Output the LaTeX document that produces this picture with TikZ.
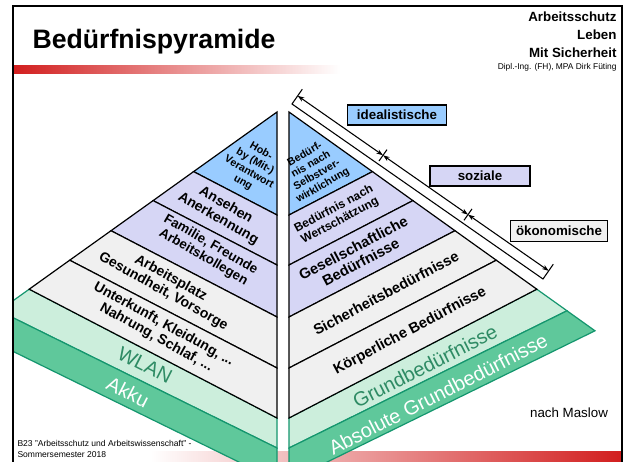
\documentclass[tikz,border=0pt]{standalone}
\usepackage{fontspec}
\setmainfont{Liberation Sans}
\usetikzlibrary{arrows.meta}

\definecolor{pyrblue}{RGB}{153,204,255}
\definecolor{pyrlila}{RGB}{214,214,245}
\definecolor{pyrgray}{RGB}{240,240,240}
\definecolor{grnlight}{RGB}{204,238,220}
\definecolor{grndark}{RGB}{95,200,155}
\definecolor{grnline}{RGB}{20,150,110}
\definecolor{grntext}{RGB}{46,139,100}
\definecolor{barred}{RGB}{210,30,30}

\tikzset{every picture/.style={line width=0.75pt}}
\tikzset{
  band/.style={draw=black, line width=0.9pt},
  grnband/.style={draw=grnline, line width=0.9pt},
  pyrtext/.style={font=\bfseries\fontsize{10}{11}\selectfont, align=center, inner sep=0pt},
  grntxt/.style={font=\fontsize{15}{16}\selectfont, inner sep=0pt},
  lvlbox/.style={draw=black, line width=1.2pt, font=\bfseries\fontsize{10}{12}\selectfont, minimum height=15pt, inner sep=2pt},
  dimarrow/.style={{Stealth[length=5pt,width=3.5pt]}-{Stealth[length=5pt,width=3.5pt]}, line width=0.8pt},
}

\begin{document}
\begin{tikzpicture}[x=0.75pt,y=0.75pt,yscale=-1,xscale=1]
\useasboundingbox (0,0) rectangle (625,461);
\fill[white] (0,0) rectangle (625,461);

%Shape: red bars
\shade[left color=barred, right color=white] (13,65) rectangle (340,73);
\shade[left color=white, right color=barred] (150,451) rectangle (622,461);

% Text Node
\node[anchor=west, font=\fontsize{6.4}{7}\selectfont, inner sep=0pt] (foot1) at (17,443) {B23 "Arbeitsschutz und Arbeitswissenschaft" -};
% Text Node
\node[anchor=west, font=\fontsize{6.4}{7}\selectfont, inner sep=0pt] (foot2) at (17,455) {Sommersemester 2018};

\begin{scope}
\clip (13,6) rectangle (622,461);
%Shape: green bands left
\draw[grnband, fill=grnlight] (29.2,289.2) -- (277,418) -- (277,448) -- (-1,310.8) -- cycle;
\draw[grnband, fill=grndark] (-1,310.8) -- (277,448) -- (277,480.7) -- (-29,330.8) -- cycle;
%Shape: green bands right
\draw[grnband, fill=grnlight] (536.8,289.2) -- (289,418) -- (289,448) -- (567,310.8) -- cycle;
\draw[grnband, fill=grndark] (567,310.8) -- (289,448) -- (289,480.7) -- (595,330.8) -- cycle;
\end{scope}

%Shape: left pyramid
\draw[band, fill=pyrblue] (277,112) -- (277,215) -- (193.6,171.6) -- cycle;
\draw[band, fill=pyrlila] (193.6,171.6) -- (277,215) -- (277,265) -- (153.1,200.6) -- cycle;
\draw[band, fill=pyrlila] (153.1,200.6) -- (277,265) -- (277,317) -- (111,230.7) -- cycle;
\draw[band, fill=pyrgray] (111,230.7) -- (277,317) -- (277,368) -- (69.7,260.2) -- cycle;
\draw[band, fill=pyrgray] (69.7,260.2) -- (277,368) -- (277,418) -- (29.2,289.2) -- cycle;

%Shape: right pyramid
\draw[band, fill=pyrblue] (289,112) -- (289,215) -- (372.4,171.6) -- cycle;
\draw[band, fill=pyrlila] (372.4,171.6) -- (289,215) -- (289,265) -- (412.9,200.6) -- cycle;
\draw[band, fill=pyrlila] (412.9,200.6) -- (289,265) -- (289,317) -- (455,230.7) -- cycle;
\draw[band, fill=pyrgray] (455,230.7) -- (289,317) -- (289,368) -- (496.3,260.2) -- cycle;
\draw[band, fill=pyrgray] (496.3,260.2) -- (289,368) -- (289,418) -- (536.8,289.2) -- cycle;

% Text Node
\node[pyrtext, rotate=-30, font=\bfseries\fontsize{8}{9}\selectfont] (hobby) at (252,167) {Hob-\\by (Mit-)\\Verantwort\\ung};
\node[pyrtext, rotate=-30, font=\bfseries\fontsize{10.5}{11.5}\selectfont] (ansehen) at (222,212) {Ansehen\\Anerkennung};
\node[pyrtext, rotate=-30] (familie) at (207,251) {Familie, Freunde\\Arbeitskollegen};
\node[pyrtext, rotate=-29, font=\bfseries\fontsize{10.5}{11.5}\selectfont] (arbeit) at (167,285) {Arbeitsplatz\\Gesundheit, Vorsorge};
\node[pyrtext, rotate=-29, font=\bfseries\fontsize{10.5}{11.5}\selectfont] (unterkunft) at (160,331) {Unterkunft, Kleidung, ...\\Nahrung, Schlaf, ...};
\node[grntxt, rotate=-27, text=grntext] (wlan) at (145,365) {WLAN};
\node[grntxt, rotate=-27, text=white] (akku) at (128,392) {Akku};

% Text Node
\node[pyrtext, rotate=30, font=\bfseries\fontsize{8}{9}\selectfont] (selbst) at (314,170) {Bedürf-\\nis nach\\Selbstver-\\wirklichung};
\node[pyrtext, rotate=28, font=\bfseries\fontsize{9}{10}\selectfont] (wert) at (337,215) {Bedürfnis nach\\Wertschätzung};
\node[pyrtext, rotate=28, font=\bfseries\fontsize{11}{12}\selectfont] (gesell) at (357,255) {Gesellschaftliche\\Bedürfnisse};
\node[pyrtext, rotate=28, font=\bfseries\fontsize{11}{12}\selectfont] (sicher) at (386,293) {Sicherheitsbedürfnisse};
\node[pyrtext, rotate=28, font=\bfseries\fontsize{11}{12}\selectfont] (koerper) at (410,331) {Körperliche Bedürfnisse};
\node[grntxt, rotate=27, text=grntext] (grund) at (425,366) {Grundbedürfnisse};
\node[grntxt, rotate=27, text=white] (absolut) at (438,394) {Absolute Grundbedürfnisse};

% Text Node
\node[font=\fontsize{10}{12}\selectfont] (maslow) at (569,413) {nach Maslow};

%Straight Lines: dimension
\coordinate (p1) at (292,104);
\coordinate (p2) at (543,279);
\coordinate (p1o) at (302.3,89.2);
\coordinate (p2o) at (553.3,264.2);
\coordinate (d0) at (297.7,95.8);
\coordinate (d1) at (383,155.3);
\coordinate (d2) at (468,214.6);
\coordinate (d3) at (548.7,270.8);
\coordinate (t1a) at (387,149.6);
\coordinate (t1b) at (379,161);
\coordinate (t2a) at (472,208.9);
\coordinate (t2b) at (464,220.3);
\draw[line width=0.8pt] (p1o) -- (p1) -- (p2) -- (p2o);
\draw[line width=0.8pt] (t1a) -- (t1b);
\draw[line width=0.8pt] (t2a) -- (t2b);
\draw[dimarrow] (d0) -- (d1);
\draw[dimarrow] (d1) -- (d2);
\draw[dimarrow] (d2) -- (d3);

% Text Node
\node[lvlbox, fill=pyrblue, minimum width=74pt] (ideal) at (397,115) {idealistische};
\node[lvlbox, fill=pyrlila, minimum width=75pt] (sozial) at (480,176) {soziale};
\node[lvlbox, fill=pyrgray, minimum width=73pt, minimum height=16pt] (oekon) at (559,231) {ökonomische};

% Text Node
\node[anchor=base west, font=\bfseries\fontsize{20}{24}\selectfont, inner sep=0pt] (title) at (32,48) {Bedürfnispyramide};
\node[anchor=base east, font=\bfseries\fontsize{10}{12}\selectfont, inner sep=0pt] (head1) at (617,21) {Arbeitsschutz};
\node[anchor=base east, font=\bfseries\fontsize{10}{12}\selectfont, inner sep=0pt] (head2) at (617,39) {Leben};
\node[anchor=base east, font=\bfseries\fontsize{10}{12}\selectfont, inner sep=0pt] (head3) at (617,57) {Mit Sicherheit};
\node[anchor=base east, font=\fontsize{6.3}{7}\selectfont, inner sep=0pt] (head4) at (617,69) {Dipl.-Ing. (FH), MPA Dirk Füting};

%Shape: frame
\draw[line width=1.2pt] (13,470) -- (13,6) -- (622,6) -- (622,470);
\end{tikzpicture}
\end{document}
